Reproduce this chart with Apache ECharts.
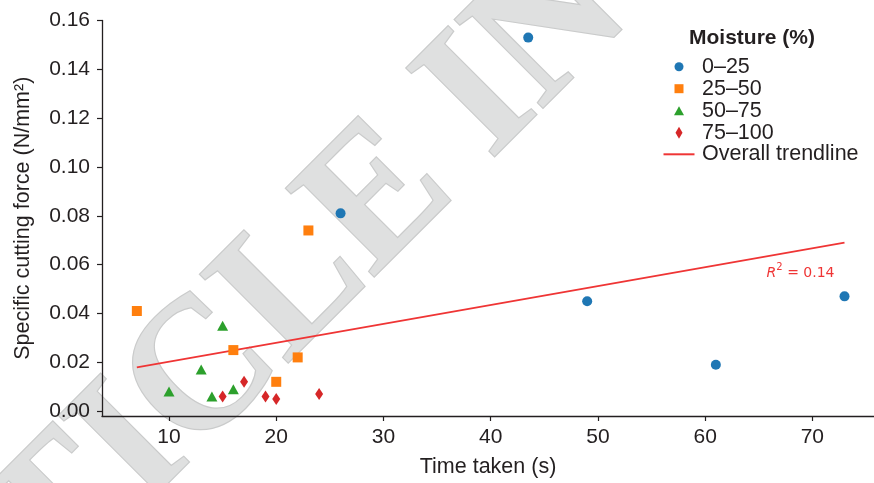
<!DOCTYPE html>
<html>
<head>
<meta charset="utf-8">
<script src="https://cdn.jsdelivr.net/npm/echarts@6/dist/echarts.min.js"></script>
<style>
  html, body { margin: 0; padding: 0; background: #ffffff; }
  #chart { width: 874px; height: 483px; }
</style>
</head>
<body>
<div id="chart"></div>
<script>
// Moisture classes
const moistureClasses = ['0–25', '25–50', '50–75', '75–100'];
const trendName = 'Overall trendline';

// Time taken (s) and specific cutting force (N/mm²) per moisture class
const timeClass1 = [43.5, 26, 49, 61, 73];
const forceClass1 = [0.153, 0.081, 0.045, 0.019, 0.047];

const timeClass2 = [7, 16, 22, 20, 23];
const forceClass2 = [0.041, 0.025, 0.022, 0.012, 0.074];

const timeClass3 = [10, 13, 14, 15, 16];
const forceClass3 = [0.008, 0.017, 0.006, 0.035, 0.009];

const timeClass4 = [15, 17, 19, 20, 24];
const forceClass4 = [0.006, 0.012, 0.006, 0.005, 0.007];

// Overall linear trend, end points
const trendTime = [7, 73];
const trendForce = [0.0179, 0.069];
const rSquared = 0.14;
const rLabelAt = [68.9, 0.0574];

// Tick values
const xTicks = [10, 20, 30, 40, 50, 60, 70];
const yTicks = [0, 0.02, 0.04, 0.06, 0.08, 0.10, 0.12, 0.14, 0.16];

const zip = (xs, ys) => xs.map((x, i) => [x, ys[i]]);

const colors = ['#1f77b4', '#ff7f0e', '#2ca02c', '#d62728'];
const trendColor = '#ef3535';
const textColor = '#231f20';
const axisColor = '#231f20';
const fontFamily = '"Liberation Sans", Arial, sans-serif';

const chart = echarts.init(document.getElementById('chart'), null, { renderer: 'canvas' });

// legend entries: icon, icon box, row centre
const iconCenterX = 679;
const textStartX = 702;
const legendRows = [
  { name: moistureClasses[0], icon: 'circle', w: 9, h: 9, cy: 66.7 },
  { name: moistureClasses[1], icon: 'rect', w: 9, h: 9, cy: 88.7 },
  { name: moistureClasses[2], icon: 'triangle', w: 10, h: 9, cy: 110.7 },
  { name: moistureClasses[3], icon: 'diamond', w: 7, h: 12, cy: 132.7 },
  { name: trendName, icon: 'rect', w: 31, h: 2, cy: 154.3 }
];

const legends = legendRows.map(r => {
  const left = iconCenterX - r.w / 2;
  const pad = textStartX - (left + r.w + 5);
  return {
    data: [{ name: r.name, icon: r.icon }],
    orient: 'vertical',
    left: left,
    top: r.cy - 11,
    padding: 0,
    itemWidth: r.w,
    itemHeight: r.h,
    symbolKeepAspect: false,
    selectedMode: false,
    textStyle: {
      fontSize: 21.5,
      lineHeight: 22,
      color: textColor,
      fontFamily: fontFamily,
      padding: [0, 0, 0, pad]
    }
  };
});

const symbolSpecs = [
  { symbol: 'circle', size: 10 },
  { symbol: 'rect', size: 10 },
  { symbol: 'triangle', size: [11, 10] },
  { symbol: 'diamond', size: [8, 12] }
];
const classData = [
  zip(timeClass1, forceClass1),
  zip(timeClass2, forceClass2),
  zip(timeClass3, forceClass3),
  zip(timeClass4, forceClass4)
];

const scatterSeries = moistureClasses.map((name, i) => ({
  name: name,
  type: 'scatter',
  data: classData[i],
  symbol: symbolSpecs[i].symbol,
  symbolSize: symbolSpecs[i].size,
  itemStyle: { color: colors[i], opacity: 1 },
  z: 4,
  emphasis: { disabled: true }
}));

const option = {
  animation: false,
  backgroundColor: '#ffffff',
  textStyle: { fontFamily: fontFamily },
  title: {
    text: 'Moisture (%)',
    left: 689,
    top: 28,
    padding: 0,
    textStyle: { fontSize: 21, fontWeight: 'bold', color: textColor, fontFamily: fontFamily }
  },
  legend: legends,
  grid: { left: 102, right: 0, top: 20.5, bottom: 67, containLabel: false },
  xAxis: {
    type: 'value',
    min: 3.75,
    max: 75.75,
    name: 'Time taken (s)',
    nameLocation: 'middle',
    nameGap: 40,
    nameTextStyle: { fontSize: 21.5, color: textColor, fontFamily: fontFamily },
    axisLine: { show: true, onZero: false, lineStyle: { color: axisColor, width: 1.3 } },
    axisTick: { show: true, length: 5, inside: false, customValues: xTicks, lineStyle: { color: axisColor, width: 1.2 } },
    axisLabel: { customValues: xTicks, fontSize: 21, color: textColor, margin: 11, fontFamily: fontFamily },
    splitLine: { show: false }
  },
  yAxis: {
    type: 'value',
    min: -0.002,
    max: 0.16,
    name: 'Specific cutting force (N/mm²)',
    nameLocation: 'middle',
    nameGap: 68,
    nameTextStyle: { fontSize: 21.5, color: textColor, fontFamily: fontFamily },
    axisLine: { show: true, onZero: false, lineStyle: { color: axisColor, width: 1.3 } },
    axisTick: { show: true, length: 5, inside: false, customValues: yTicks, lineStyle: { color: axisColor, width: 1.2 } },
    axisLabel: {
      customValues: yTicks,
      fontSize: 21,
      color: textColor,
      margin: 12,
      fontFamily: fontFamily,
      formatter: v => v.toFixed(2)
    },
    splitLine: { show: false }
  },
  series: [
    ...scatterSeries,
    {
      name: trendName,
      type: 'line',
      data: zip(trendTime, trendForce),
      symbol: 'none',
      lineStyle: { color: trendColor, width: 1.8 },
      itemStyle: { color: trendColor },
      z: 3,
      emphasis: { disabled: true }
    }
  ]
};

chart.setOption(option);

// Diagonal watermark behind the plot, and the fit annotation
const rPos = chart.convertToPixel({ gridIndex: 0 }, rLabelAt);
chart.setOption({
  graphic: [
    {
      type: 'text',
      silent: true,
      z: -10,
      x: 436.4,
      y: 144.7,
      rotation: Math.PI / 4,
      scaleX: 0.96,
      style: {
        text: 'ARTICLE IN PRESS',
        fontSize: 190,
        fontWeight: 'bold',
        fontFamily: '"Liberation Serif", "Times New Roman", serif',
        fill: '#dfe0e0',
        stroke: '#cacbcb',
        lineWidth: 2.5,
        align: 'center',
        verticalAlign: 'middle'
      }
    },
    {
      type: 'text',
      silent: true,
      z: 10,
      x: rPos[0],
      y: rPos[1],
      style: {
        text: '{i|R}{s|2}{n| = ' + rSquared.toFixed(2) + '}',
        align: 'center',
        verticalAlign: 'middle',
        fill: trendColor,
        rich: {
          i: { fontSize: 14, fontStyle: 'italic', fontFamily: '"DejaVu Sans", sans-serif', fill: trendColor, verticalAlign: 'bottom' },
          s: { fontSize: 10, fontFamily: '"DejaVu Sans", sans-serif', fill: trendColor, padding: [0, 0, 8, 0], verticalAlign: 'bottom' },
          n: { fontSize: 14, fontFamily: '"DejaVu Sans", sans-serif', fill: trendColor, verticalAlign: 'bottom' }
        }
      }
    }
  ]
});
</script>
</body>
</html>
